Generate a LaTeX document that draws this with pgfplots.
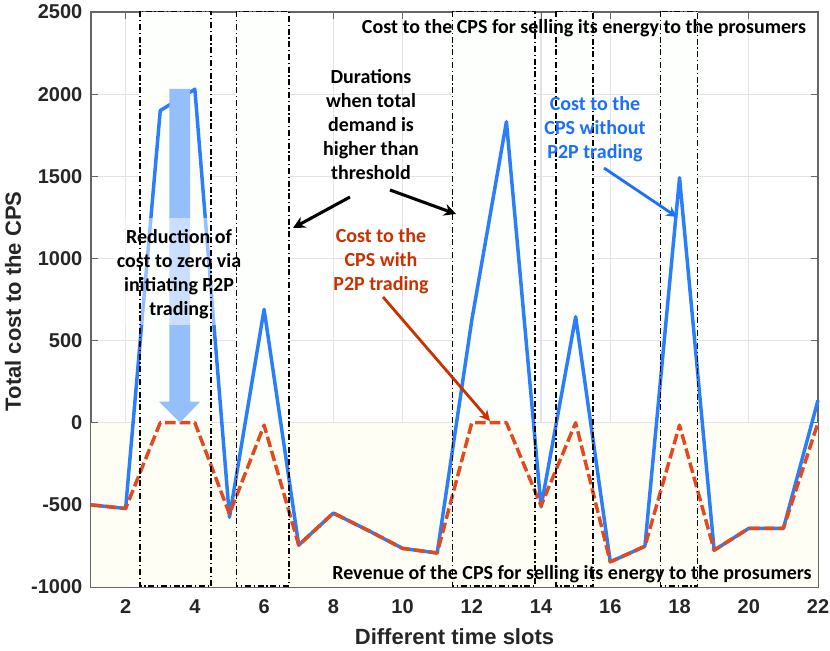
\documentclass[border=0pt]{standalone}
\usepackage{fontspec}
\setmainfont{Liberation Sans}
\newfontfamily\calfont{Carlito}
\usepackage{pgfplots}
\pgfplotsset{compat=1.18}
\usetikzlibrary{arrows.meta}

\definecolor{noP2P}{HTML}{2A7DFB}
\definecolor{withP2P}{HTML}{E2491F}
\definecolor{revfill}{HTML}{FEFEF5}
\definecolor{durfill}{HTML}{FCFFFB}
\definecolor{txtred}{HTML}{C83200}
\definecolor{txtblue}{HTML}{1A6FFF}
\definecolor{bigarrow}{HTML}{94BFFB}
\definecolor{axgray}{HTML}{666666}
\definecolor{labgray}{HTML}{262626}

\begin{document}
\begin{tikzpicture}
  % 1 reference pixel = 0.75pt, page pinned to 830x650
  \useasboundingbox (-68.25pt,-47.25pt) rectangle (554.25pt,440.25pt);
  \begin{axis}[
    at={(0pt,0pt)},
    anchor=south west,
    scale only axis,
    width=545.25pt,
    height=431.25pt,
    xmin=1, xmax=22,
    ymin=-1000, ymax=2500,
    xtick={2,4,...,22},
    xticklabels={2,4,6,8,10,12,14,16,18,20,22},
    ytick={-1000,-500,0,500,1000,1500,2000,2500},
    yticklabels={-1000,-500,0,500,1000,1500,2000,2500},
    tick align=inside,
    major tick length=5pt,
    tick style={draw=axgray, line width=0.7pt},
    axis line style={draw=axgray, line width=0.9pt},
    ticklabel style={font=\fontsize{15}{15}\selectfont\bfseries, text=labgray},
    xticklabel style={yshift=-6pt},
    yticklabel style={xshift=-3pt},
    xlabel={Different time slots},
    ylabel={Total cost to the CPS},
    label style={font=\fontsize{16.5}{16.5}\selectfont\bfseries, text=labgray},
    xlabel style={at={(axis description cs:0.5,0)}, anchor=center, yshift=-37pt},
    ylabel style={at={(axis description cs:0,0.497)}, anchor=center, yshift=58.5pt},
    ymajorgrids, xmajorgrids,
    grid style={draw=black!11, line width=0.9pt},
    clip=false,
  ]
  % revenue region
  \addplot[fill=revfill, draw=none] coordinates {(1,0) (22,0) (22,-1000) (1,-1000)} -- cycle;
  % durations when demand is above threshold
  \addplot[fill=durfill, draw=none] coordinates {(2.42,2500) (4.47,2500) (4.47,0) (2.42,0)} -- cycle;
  \addplot[fill=durfill, draw=none] coordinates {(5.2,2500) (6.72,2500) (6.72,0) (5.2,0)} -- cycle;
  \addplot[fill=durfill, draw=none] coordinates {(11.45,2500) (13.83,2500) (13.83,0) (11.45,0)} -- cycle;
  \addplot[fill=durfill, draw=none] coordinates {(14.43,2500) (15.5,2500) (15.5,0) (14.43,0)} -- cycle;
  \addplot[fill=durfill, draw=none] coordinates {(17.45,2500) (18.52,2500) (18.52,0) (17.45,0)} -- cycle;

  % without P2P trading
  \addplot[draw=noP2P, line width=2.6pt, line join=round, no markers] coordinates {
    (1,-500) (2,-522) (3,1900) (4,2030) (5,-575) (6,690) (7,-745) (8,-550)
    (9,-655) (10,-765) (11,-793) (12,625) (13,1832) (14,-512) (15,645) (16,-847)
    (17,-752) (18,1491) (19,-776) (20,-643) (21,-643) (22,137)
  };
  % with P2P trading
  \addplot[draw=withP2P, line width=2.6pt, line join=round, dash pattern=on 8pt off 3pt, no markers] coordinates {
    (1,-500) (2,-522) (3,0) (4,0) (5,-555) (6,-15) (7,-745) (8,-550)
    (9,-655) (10,-765) (11,-793) (12,0) (13,0) (14,-505) (15,0) (16,-847)
    (17,-752) (18,-15) (19,-776) (20,-643) (21,-643) (22,0)
  };
  \end{axis}

  % annotations, in reference pixel coordinates
  \begin{scope}[x=0.75pt, y=-0.75pt, shift={(-91,-587)}]
    \fill[bigarrow] (169.3,89) -- (190,89) -- (190,401.7) -- (200,401.7) -- (180,422.6)
      -- (159,401.7) -- (169.3,401.7) -- cycle;
    \fill[white, opacity=0.5] (114,218.5) rectangle (246,325);

    \foreach \xa/\xb in {140/211, 236.7/289, 452.7/535, 556/593, 660.7/697.7}
      \draw[black, line width=0.8pt, dash pattern=on 4.5pt off 2pt on 1pt off 2pt]
        (\xa,11.5) rectangle (\xb,586);

    \tikzset{lab/.style={font=\calfont\fontsize{15}{18}\selectfont\bfseries, align=center, anchor=center, inner sep=0pt}}
    \node[lab] at (179,274) {Reduction of\\cost to zero via\\initiating P2P\\trading};
    \node[lab] at (371,125) {Durations\\when total\\demand is\\higher than\\threshold};
    \node[lab, text=txtred] at (381,261) {Cost to the\\CPS with\\P2P trading};
    \node[lab, text=txtblue] at (595,129) {Cost to the\\CPS without\\P2P trading};
    \node[lab] at (584,28.5) {Cost to the CPS for selling its energy to the prosumers};
    \node[lab] at (572,574.5) {Revenue of the CPS for selling its energy to the prosumers};

    \draw[-{Stealth[length=9pt,width=9pt]}, black, line width=2.3pt] (350,197) -- (293,228);
    \draw[-{Stealth[length=9pt,width=9pt]}, black, line width=2.3pt] (390,190) -- (456,214);
    \draw[-{Stealth[length=8pt,width=8pt]}, txtred, line width=2.1pt] (383,297) -- (490,421);
    \draw[-{Stealth[length=8pt,width=8pt]}, txtblue, line width=2.1pt] (604,168) -- (677,217);
  \end{scope}
\end{tikzpicture}
\end{document}
